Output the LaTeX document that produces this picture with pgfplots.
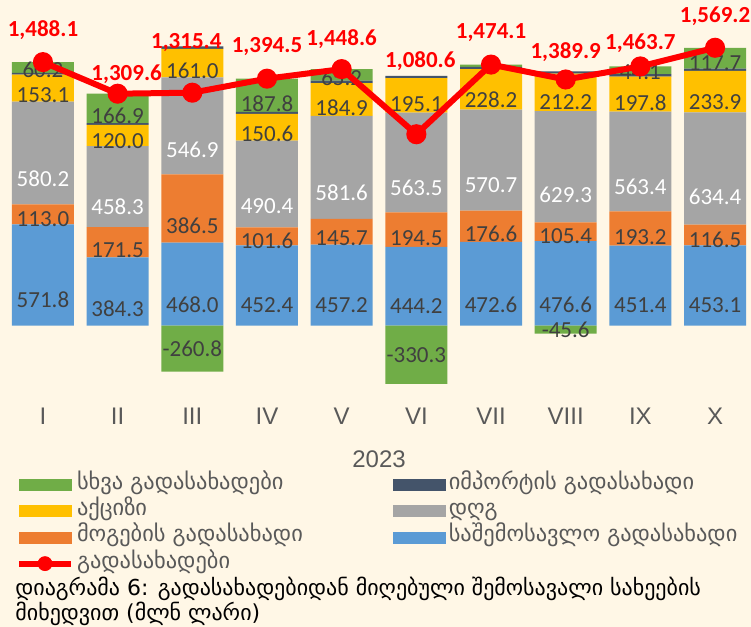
\documentclass[border=0pt]{standalone}
\usepackage{pgfplots}
\pgfplotsset{compat=1.18}
\usepackage{pgfplotstable}
\usepackage{fontspec}
\setmainfont{Liberation Sans}
\newfontfamily\carlito{Carlito}
\newfontfamily\geo{DejaVu Sans}
\definecolor{cInc}{HTML}{5B9BD5}
\definecolor{cProf}{HTML}{ED7D31}
\definecolor{cVat}{HTML}{A5A5A5}
\definecolor{cExc}{HTML}{FFC000}
\definecolor{cImp}{HTML}{44546A}
\definecolor{cOth}{HTML}{70AD47}
\definecolor{cRed}{HTML}{FF0000}
\definecolor{bgc}{HTML}{FFF7E6}
\definecolor{txt}{HTML}{404040}
\definecolor{axtxt}{HTML}{595959}

\pgfplotstableread{
x inc prof vat exc imp oth othlab
0 571.8 113.0 580.2 153.1 9.8 60.2 60.2
1 384.3 171.5 458.3 120.0 8.6 166.9 166.9
2 468.0 386.5 546.9 161.0 14.6 0 {}
3 452.4 101.6 490.4 150.6 11.7 187.8 187.8
4 457.2 145.7 581.6 184.9 14.0 65.2 65.2
5 444.2 194.5 563.5 195.1 13.6 0 {}
6 472.6 176.6 570.7 228.2 13.0 13.0 {}
7 476.6 105.4 629.3 212.2 12.0 0 {}
8 451.4 193.2 563.4 197.8 13.8 44.1 44.1
9 453.1 116.5 634.4 233.9 13.6 117.7 117.7
}\bars

\pgfplotstableread{
x tot lab dx dy
0 1488.1 1,488.1 0 16
1 1309.6 1,309.6 4.5 10
2 1315.4 1,315.4 -3 25
3 1394.5 1,394.5 0 16
4 1448.6 1,448.6 0 15
5 1080.6 1,080.6 2 36.5
6 1474.1 1,474.1 0 16
7 1389.9 1,389.9 0 13.5
8 1463.7 1,463.7 0 11.5
9 1569.2 1,569.2 0 16
}\totals

\pgfplotsset{
  base/.style={
    width=367.4pt, height=200pt, scale only axis,
    xmin=-0.42, xmax=9.42, ymin=-420.9, ymax=1839,
    axis line style={draw=none}, ytick=\empty,
    major tick length=0pt, clip=false,
    at={(5.8pt,-200pt)}, anchor=south west,
  },
  stacklab/.style 2 args={
    point meta=explicit symbolic,
    nodes near coords,
    nodes near coords align={center},
    visualization depends on=rawy \as \rawy,
    every node near coord/.append style={anchor=center,
      font=\carlito\fontsize{11.5}{12}\selectfont, text=#1,
      shift={(axis direction cs:0,-\rawy/#2)}},
  },
}

\begin{document}
\begin{tikzpicture}
\fill[bgc] (0,0) rectangle (375.5pt,-313.5pt);

\begin{axis}[base,
  ybar stacked, bar width=31pt,
  xtick={0,...,9},
  xticklabels={I,II,III,IV,V,VI,VII,VIII,IX,X},
  xticklabel style={anchor=center, yshift=-8pt,
    font=\fontsize{12}{14}\selectfont, text=axtxt},
  xlabel={2023},
  every axis x label/.style={at={(axis description cs:0.5,0)},
    anchor=center, yshift=-29.5pt,
    font=\fontsize{12}{14}\selectfont, text=axtxt},
]
\addplot[fill=cInc, draw=none, stacklab={txt}{4}] table[x=x, y=inc, meta=inc] {\bars};
\addplot[fill=cProf, draw=none, stacklab={txt}{4}] table[x=x, y=prof, meta=prof] {\bars};
\addplot[fill=cVat, draw=none, stacklab={white}{4}] table[x=x, y=vat, meta=vat] {\bars};
\addplot[fill=cExc, draw=none, stacklab={txt}{4}] table[x=x, y=exc, meta=exc] {\bars};
\addplot[fill=cImp, draw=none] table[x=x, y=imp] {\bars};
\addplot[fill=cOth, draw=none, stacklab={txt}{4}] table[x=x, y=oth, meta=othlab] {\bars};
\end{axis}

\begin{axis}[base, xtick=\empty,
  legend columns=2,
  legend style={at={(axis description cs:0.006,-0.1888)}, anchor=north west,
    draw=none, fill=none, inner sep=0pt, outer sep=0pt,
    column sep=0pt, row sep=3.6pt,
    /tikz/every odd column/.style={column sep=1.5pt},
    /tikz/every even column/.style={column sep=0pt},
    nodes={inner sep=0pt, text height=7pt, text depth=2.5pt, anchor=west,
      font=\geo\fontsize{11.2}{13}\selectfont, text=axtxt}},
]
\addplot[ybar, bar width=31pt, bar shift=0pt, fill=cOth, draw=none, forget plot,
  stacklab={txt}{2}] coordinates {(2,-260.8) [-260.8] (5,-330.3) [-330.3] (7,-45.6) [-45.6]};
\addplot[cRed, line width=3pt, mark=*, mark size=3.5pt, forget plot,
  point meta=explicit symbolic, nodes near coords,
  nodes near coords align={center},
  visualization depends on=\thisrow{dx} \as \dx,
  visualization depends on=\thisrow{dy} \as \dy,
  every node near coord/.append style={anchor=center, xshift=\dx pt, yshift=\dy pt,
    font=\carlito\bfseries\fontsize{11.5}{12}\selectfont, text=cRed}]
  table[x=x, y=tot, meta=lab] {\totals};

\addlegendimage{legend image code/.code={\fill[cOth] (0pt,-2.75pt) rectangle (26pt,2.75pt);}}
\addlegendentry{\makebox[158pt][l]{სხვა გადასახადები}}
\addlegendimage{legend image code/.code={\fill[cImp] (0pt,-2.75pt) rectangle (26pt,2.75pt);}}
\addlegendentry{იმპორტის გადასახადი}
\addlegendimage{legend image code/.code={\fill[cExc] (0pt,-2.75pt) rectangle (26pt,2.75pt);}}
\addlegendentry{\makebox[158pt][l]{აქციზი}}
\addlegendimage{legend image code/.code={\fill[cVat] (0pt,-2.75pt) rectangle (26pt,2.75pt);}}
\addlegendentry{დღგ}
\addlegendimage{legend image code/.code={\fill[cProf] (0pt,-2.75pt) rectangle (26pt,2.75pt);}}
\addlegendentry{\makebox[158pt][l]{მოგების გადასახადი}}
\addlegendimage{legend image code/.code={\fill[cInc] (0pt,-2.75pt) rectangle (26pt,2.75pt);}}
\addlegendentry{საშემოსავლო გადასახადი}
\addlegendimage{legend image code/.code={\draw[cRed, line width=3pt] (0pt,0pt) -- (26pt,0pt); \fill[cRed] (13pt,0pt) circle (3.5pt);}}
\addlegendentry{\makebox[158pt][l]{გადასახადები}}
\end{axis}

\node[anchor=base west, inner sep=0pt, font=\geo\fontsize{11}{13}\selectfont, text=black]
  at (7.5pt,-297.5pt) {დიაგრამა 6: გადასახადებიდან მიღებული შემოსავალი სახეების};
\node[anchor=base west, inner sep=0pt, font=\geo\fontsize{11}{13}\selectfont, text=black]
  at (7.5pt,-310pt) {მიხედვით (მლნ ლარი)};

\pgfresetboundingbox
\path (0,0) rectangle (375.5pt,-313.5pt);
\end{tikzpicture}
\end{document}
